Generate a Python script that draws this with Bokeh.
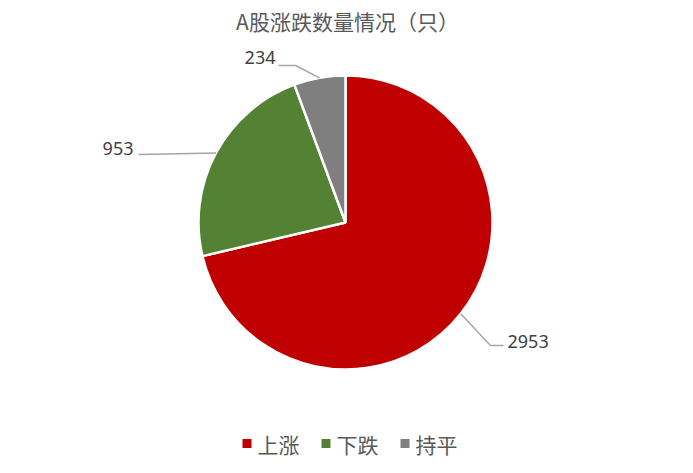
import numpy as np

from bokeh.core.properties import value
from bokeh.embed import file_html
from bokeh.models import ColumnDataSource, Range1d
from bokeh.plotting import figure
from bokeh.resources import INLINE

categories = ["上涨", "下跌", "持平"]
counts = [2953, 953, 234]
colors = ["#C00000", "#548235", "#7F7F7F"]
title = "A股涨跌数量情况（只）"

W, H = 677, 457
FONT = value("Noto Sans CJK SC")


def Y(ypix):
    # page pixels from the top -> data units from the bottom
    return H - ypix


cx, cy, r = 345, Y(222), 147

frac = np.array(counts) / sum(counts)
cum = np.concatenate([[0], np.cumsum(frac)])
start = np.pi / 2 - cum[:-1] * 2 * np.pi
end = np.pi / 2 - cum[1:] * 2 * np.pi
mid = (start + end) / 2

p = figure(
    width=W,
    height=H,
    x_range=Range1d(0, W),
    y_range=Range1d(0, H),
    output_backend="svg",
    toolbar_location=None,
    tools="",
    min_border=0,
    outline_line_color=None,
)
p.axis.visible = False
p.grid.visible = False

src = ColumnDataSource(dict(cat=categories, n=counts, color=colors,
                            start=start, end=end))
p.wedge(x=cx, y=cy, radius=r, radius_units="screen",
        start_angle="start", end_angle="end", direction="clock",
        fill_color="color", line_color="white", line_width=2.5, source=src)

# leader lines: from slice edge at mid angle, optional elbow, to label
elbows = [(490, 345), None, (295, 65)]
ends = [(503, 345), (138, 154), (278, 65)]
for m, el, en in zip(mid, elbows, ends):
    xs = [cx + r * np.cos(m)]
    ys = [cy + r * np.sin(m)]
    if el is not None:
        xs.append(el[0])
        ys.append(Y(el[1]))
    xs.append(en[0])
    ys.append(Y(en[1]))
    p.line(xs, ys, line_color="#A6A6A6", line_width=1.5)

lab = ColumnDataSource(dict(
    x=[507, 133, 275],
    y=[Y(341), Y(148), Y(57)],
    t=[str(c) for c in counts],
    align=["left", "right", "right"],
))
p.text("x", "y", text="t", text_align="align", text_baseline="middle",
       text_font=value("Noto Sans"), text_font_size="18px",
       text_color="#404040", source=lab)

p.text([347], [Y(20)], text=[title], text_align="center",
       text_baseline="middle", text_font=FONT, text_font_size="21px",
       text_color="#595959")

# legend
leg = ColumnDataSource(dict(
    x=[246.5, 325.5, 404.5],
    y=[Y(443)] * 3,
    tx=[257, 336, 415],
    cat=categories,
    color=colors,
))
p.scatter("x", "y", marker="square", size=9, fill_color="color",
          line_color=None, source=leg)
p.text("tx", "y", text="cat", text_baseline="middle", text_font=FONT,
       text_font_size="21px", text_color="#595959", source=leg)

open("out.html", "w").write(file_html(p, INLINE))
